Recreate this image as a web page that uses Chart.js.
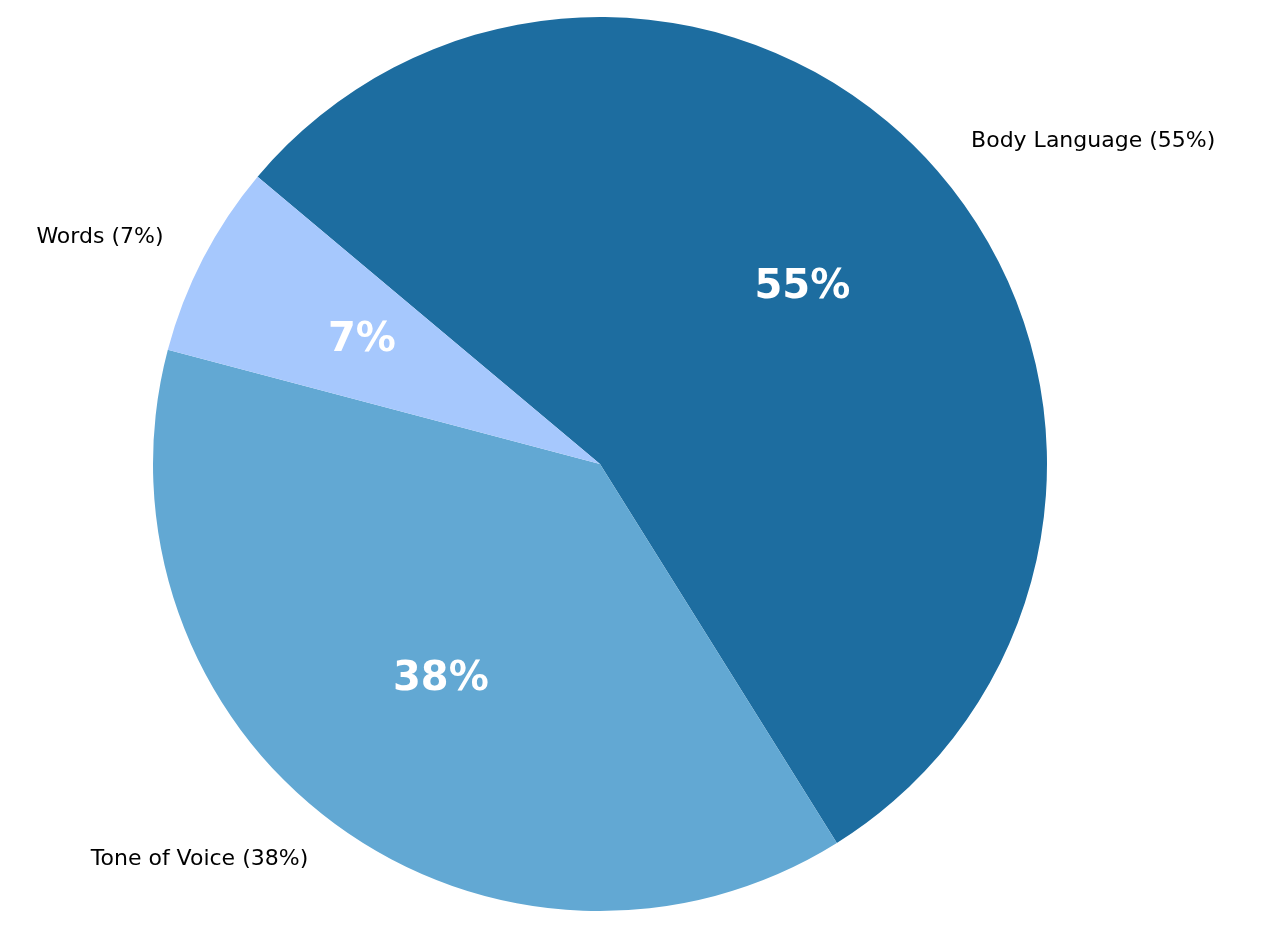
<!DOCTYPE html>
<html><head><meta charset="utf-8">
<script src="https://cdn.jsdelivr.net/npm/chart.js@4/dist/chart.umd.min.js"></script>
<style>html,body{margin:0;padding:0;background:#fff}</style>
</head><body>
<canvas id="c" width="1280" height="941"></canvas>
<script>
const categories = ["Body Language", "Tone of Voice", "Words"];
const values = [55, 38, 7];
const colors = ["#1d6da0", "#62a8d3", "#a6c8fd"];

const labelPlugin = {
  id: 'pieLabels',
  afterDatasetsDraw(chart) {
    const ctx = chart.ctx;
    const meta = chart.getDatasetMeta(0);
    meta.data.forEach((arc, i) => {
      const mid = (arc.startAngle + arc.endAngle) / 2;
      const r = arc.outerRadius;
      const cx = arc.x, cy = arc.y;
      ctx.save();
      ctx.textBaseline = 'middle';
      // outer label
      let lx = cx + Math.cos(mid) * r * 1.1, ly = cy + Math.sin(mid) * r * 1.1;
      ctx.font = '22px "DejaVu Sans"';
      ctx.fillStyle = '#000';
      ctx.textAlign = Math.cos(mid) >= 0 ? 'left' : 'right';
      ctx.fillText(categories[i] + ' (' + values[i] + '%)', lx, ly);
      // pct
      let px = cx + Math.cos(mid) * r * 0.6, py = cy + Math.sin(mid) * r * 0.6;
      ctx.font = 'bold 40px "DejaVu Sans"';
      ctx.fillStyle = '#fff';
      ctx.textAlign = 'center';
      ctx.fillText(values[i] + '%', px, py);
      ctx.restore();
    });
  }
};

new Chart(document.getElementById('c'), {
  type: 'pie',
  data: { labels: categories, datasets: [{ data: values, backgroundColor: colors, borderWidth: 0 }] },
  options: {
    responsive: false, animation: false, rotation: -50,
    layout: { padding: { left: 0, right: 80, top: 17, bottom: 30 } },
    plugins: { legend: { display: false }, tooltip: { enabled: false } }
  },
  plugins: [labelPlugin]
});
</script>
</body></html>
